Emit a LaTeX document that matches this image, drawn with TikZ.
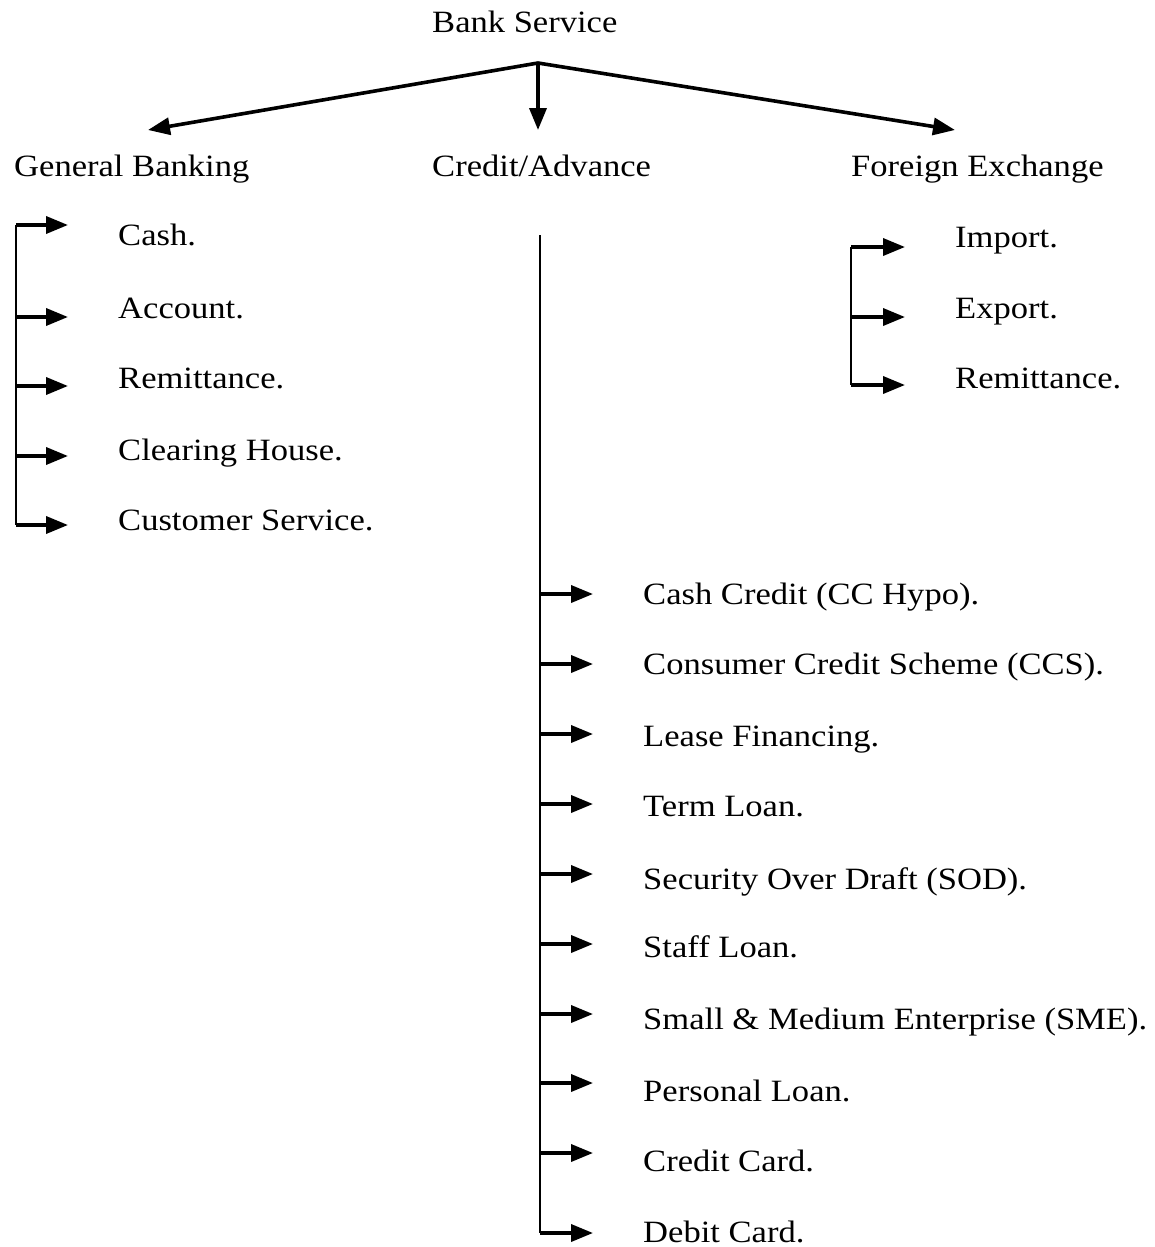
\documentclass[tikz,border=0pt]{standalone}
\usepackage{fontspec}
\setmainfont{Liberation Serif}[FakeStretch=1.115]
\usetikzlibrary{arrows.meta}
\begin{document}
\begin{tikzpicture}[x=1pt,y=-1pt,
  lbl/.style={anchor=base west,inner sep=0pt,font=\fontsize{31}{36}\selectfont},
  tip/.style={Triangle[length=22pt,width=17pt]},
  arr/.style={line width=3.6pt,-{Triangle[length=22pt,width=17pt]}},
  trunk/.style={line width=2.6pt}]
\useasboundingbox (0,0) rectangle (1155,1247);
% top level
\node[lbl] (bs) at (432,33) {Bank Service};
\node[lbl] (gb) at (14,176) {General Banking};
\node[lbl] (ca) at (432,176) {Credit/Advance};
\node[lbl] (fe) at (851,176) {Foreign Exchange};
\coordinate (apex) at (538,63);
\coordinate (gbtip) at (148,130);
\coordinate (catip) at (538,130);
\coordinate (fetip) at (955,130);
\draw[line width=3.6pt,line join=miter,{Triangle[length=22pt,width=17pt]}-{Triangle[length=22pt,width=17pt]}] (gbtip) -- (apex) -- (fetip);
\draw[arr] (apex) -- (catip);
% General banking
\node[lbl] (g1) at (118,245) {Cash.};
\node[lbl] (g2) at (118,318) {Account.};
\node[lbl] (g3) at (118,388) {Remittance.};
\node[lbl] (g4) at (118,460) {Clearing House.};
\node[lbl] (g5) at (118,530) {Customer Service.};
\coordinate (gt) at (16,225);
\coordinate (gbot) at (16,525);
\draw[trunk] (gt) -- (gbot);
\foreach \n/\y in {g1/225,g2/317,g3/386,g4/456,g5/525}
  \draw[arr] (16,\y) -- ([xshift=-50pt]\n.west |- 0,\y);
% Foreign exchange
\node[lbl] (f1) at (955,247) {Import.};
\node[lbl] (f2) at (955,318) {Export.};
\node[lbl] (f3) at (955,388) {Remittance.};
\coordinate (ft) at (851,247);
\coordinate (fbot) at (851,385);
\draw[trunk] (ft) -- (fbot);
\foreach \n/\y in {f1/247,f2/317,f3/385}
  \draw[arr] (851,\y) -- ([xshift=-50pt]\n.west |- 0,\y);
% Credit/Advance
\node[lbl] (c1) at (643,604) {Cash Credit (CC Hypo).};
\node[lbl] (c2) at (643,674) {Consumer Credit Scheme (CCS).};
\node[lbl] (c3) at (643,746) {Lease Financing.};
\node[lbl] (c4) at (643,816) {Term Loan.};
\node[lbl] (c5) at (643,889) {Security Over Draft (SOD).};
\node[lbl] (c6) at (643,957) {Staff Loan.};
\node[lbl] (c7) at (643,1029) {Small \& Medium Enterprise (SME).};
\node[lbl] (c8) at (643,1101) {Personal Loan.};
\node[lbl] (c9) at (643,1171) {Credit Card.};
\node[lbl] (c10) at (643,1242) {Debit Card.};
\coordinate (ct) at (540,235);
\coordinate (cbot) at (540,1233);
\draw[trunk] (ct) -- (cbot);
\foreach \n/\y in {c1/594,c2/664,c3/734,c4/804,c5/874,c6/944,c7/1014,c8/1083,c9/1153,c10/1233}
  \draw[arr] (540,\y) -- ([xshift=-50pt]\n.west |- 0,\y);
\end{tikzpicture}
\end{document}
